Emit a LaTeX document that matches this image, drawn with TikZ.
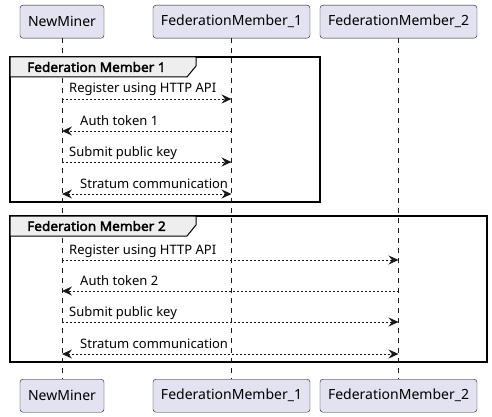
\documentclass[tikz,border=0pt]{standalone}
\usepackage{fontspec}
\setmainfont{Noto Sans}
\newfontfamily\grpfont{Noto Sans}[FakeBold=2.5, FakeStretch=1.05]
\usetikzlibrary{arrows.meta,positioning}
\definecolor{partfill}{HTML}{E2E2F0}
\definecolor{linecol}{HTML}{181818}
\definecolor{tabfill}{HTML}{EEEEEE}

\begin{document}
\begin{tikzpicture}[
  x=1pt, y=-1pt,
  part/.style={draw=linecol, rounded corners=3pt, fill=partfill, minimum height=33pt,
               inner xsep=0pt, anchor=north, font=\fontsize{14}{16}\selectfont},
  life/.style={draw=linecol, dash pattern=on 5pt off 5pt, line width=0.5pt},
  msg/.style={-{Stealth[length=10pt, width=9pt, inset=3.5pt]}, draw=linecol,
              dash pattern=on 2pt off 2pt, line width=0.8pt},
  both/.style={msg, {Stealth[length=10pt, width=9pt, inset=3.5pt]}-{Stealth[length=10pt, width=9pt, inset=3.5pt]}},
  lbl/.style={anchor=base west, inner sep=0pt, font=\fontsize{13}{15}\selectfont},
  grp/.style={draw=black, line width=1.5pt},
  grptab/.style={draw=black, line width=1pt, fill=tabfill},
  grptitle/.style={anchor=west, inner sep=0pt, font=\grpfont\fontsize{13}{15}\selectfont}
]
  \useasboundingbox (0,0) rectangle (492,417);

  % participants, top and bottom
  \node[part, minimum width=84pt]  (NM) at (62,5)    {NewMiner};
  \node[part, minimum width=157pt] (F1) at (231.5,5) {FederationMember\_1};
  \node[part, minimum width=157pt] (F2) at (398.5,5) {FederationMember\_2};
  \node[part, minimum width=84pt]  (NMb) at (62,379)    {NewMiner};
  \node[part, minimum width=157pt] (F1b) at (231.5,379) {FederationMember\_1};
  \node[part, minimum width=157pt] (F2b) at (398.5,379) {FederationMember\_2};

  \draw[life] (NM) -- (NMb);
  \draw[life] (F1) -- (F1b);
  \draw[life] (F2) -- (F2b);

  % group 1
  \draw[grp] (10,57) rectangle (320,202);
  \draw[grptab] (10,57) -- (196,57) -- (196,66) -- (187,77) -- (10,77) -- cycle;
  \node[grptitle] (G1) at (27,67) {Federation Member 1};

  \coordinate (m1) at (0,99);
  \coordinate (m2) at (0,131);
  \coordinate (m3) at (0,162);
  \coordinate (m4) at (0,194);
  \node[lbl] (t1) at (69,93)  {Register using HTTP API};
  \node[lbl] (t2) at (80,125) {Auth token 1};
  \node[lbl] (t3) at (69,156) {Submit public key};
  \node[lbl] (t4) at (80,188) {Stratum communication};
  \draw[msg]  (NM |- m1) -- (F1 |- m1);
  \draw[msg]  (F1 |- m2) -- (NM |- m2);
  \draw[msg]  (NM |- m3) -- (F1 |- m3);
  \draw[both] (NM |- m4) -- (F1 |- m4);

  % group 2
  \draw[grp] (10,216) rectangle (487,362);
  \draw[grptab] (10,216) -- (196,216) -- (196,225) -- (187,236) -- (10,236) -- cycle;
  \node[grptitle] (G2) at (27,226) {Federation Member 2};

  \coordinate (n1) at (0,260);
  \coordinate (n2) at (0,291);
  \coordinate (n3) at (0,322);
  \coordinate (n4) at (0,354);
  \node[lbl] (u1) at (69,254)  {Register using HTTP API};
  \node[lbl] (u2) at (80,285) {Auth token 2};
  \node[lbl] (u3) at (69,316) {Submit public key};
  \node[lbl] (u4) at (80,348) {Stratum communication};
  \draw[msg]  (NM |- n1) -- (F2 |- n1);
  \draw[msg]  (F2 |- n2) -- (NM |- n2);
  \draw[msg]  (NM |- n3) -- (F2 |- n3);
  \draw[both] (NM |- n4) -- (F2 |- n4);
\end{tikzpicture}
\end{document}
